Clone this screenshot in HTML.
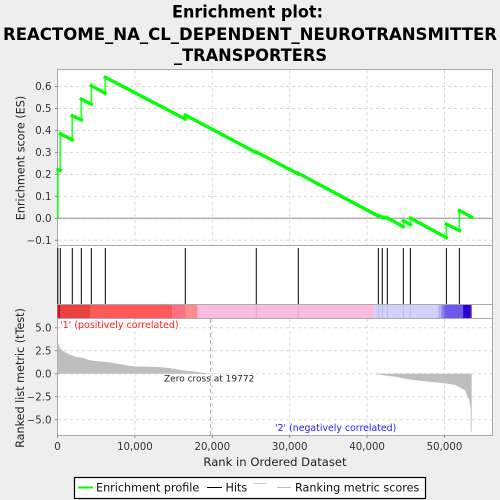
<!DOCTYPE html>
<html>
<head>
<meta charset="utf-8">
<style>
html,body{margin:0;padding:0;background:#eeeeee;width:500px;height:500px;overflow:hidden}
svg{display:block;font-family:"DejaVu Sans","Liberation Sans",sans-serif}
</style>
</head>
<body>
<svg id="chart" width="500" height="500" viewBox="0 0 500 500" xmlns="http://www.w3.org/2000/svg">
  <rect x="0" y="0" width="500" height="500" fill="#eeeeee"/>
  <g font-weight="bold" font-size="17" text-anchor="middle" fill="#000">
    <text x="247.5" y="17.5" textLength="151" lengthAdjust="spacingAndGlyphs">Enrichment plot:</text>
    <text x="250" y="40" textLength="494" lengthAdjust="spacingAndGlyphs">REACTOME_NA_CL_DEPENDENT_NEUROTRANSMITTER</text>
    <text x="250.5" y="61" textLength="153" lengthAdjust="spacingAndGlyphs">_TRANSPORTERS</text>
  </g>
  <rect x="57.5" y="69.5" width="435" height="176" fill="#fff" stroke="#aaaaaa"/>
  <rect x="57.5" y="245.5" width="435" height="73" fill="#fff" stroke="#aaaaaa"/>
  <rect x="57.5" y="318.5" width="435" height="117" fill="#fff" stroke="#aaaaaa"/>
  <g id="grid"></g>
  <g id="rankArea"></g>
  <g id="band"></g>
  <g id="hits"></g>
  <g id="es"></g>
  <g id="ticks" font-size="10.2" fill="#333"></g>
  <text transform="translate(24.5,158) rotate(-90)" text-anchor="middle" font-size="11.2" fill="#222">Enrichment score (ES)</text>
  <text transform="translate(24,378) rotate(-90)" text-anchor="middle" font-size="11.2" fill="#222">Ranked list metric (tTest)</text>
  <text x="275" y="466" text-anchor="middle" font-size="11.6" fill="#222">Rank in Ordered Dataset</text>
  <text x="60" y="328" font-size="9.5" fill="#ff2020">'1' (positively correlated)</text>
  <text x="275" y="431" font-size="9.4" fill="#2020ff">'2' (negatively correlated)</text>
  <text x="164" y="381.5" font-size="9" fill="#222">Zero cross at 19772</text>
  <g>
    <rect x="74.5" y="477.5" width="351" height="21" fill="#fff" stroke="#000" stroke-width="1.2"/>
    <line x1="78" x2="93" y1="487.5" y2="487.5" stroke="#00ff00" stroke-width="2"/>
    <text x="96" y="491.5" font-size="11.2" fill="#111">Enrichment profile</text>
    <line x1="207" x2="222" y1="487.5" y2="487.5" stroke="#000"/>
    <text x="225.5" y="491.5" font-size="11.2" fill="#111">Hits</text>
    <line x1="253" x2="267" y1="483.5" y2="483.5" stroke="#cccccc"/>
    <line x1="277" x2="291" y1="487.5" y2="487.5" stroke="#bbbbbb"/>
    <text x="295" y="491.5" font-size="11.2" fill="#111">Ranking metric scores</text>
  </g>
</svg>
<script>
// ---- data ----
var xTicks = [0, 10000, 20000, 30000, 40000, 50000];
var xTickLabels = ["0", "10,000", "20,000", "30,000", "40,000", "50,000"];
var esTicks = [-0.1, 0.0, 0.1, 0.2, 0.3, 0.4, 0.5, 0.6];
var esTickLabels = ["-0.1", "0.0", "0.1", "0.2", "0.3", "0.4", "0.5", "0.6"];
var metricTicks = [-5, -2.5, 0, 2.5, 5];
var metricTickLabels = ["-5.0", "-2.5", "0.0", "2.5", "5.0"];
var zeroCross = 19772;
var hitRanks = [40, 360, 1910, 3075, 4370, 6175, 16510, 25680, 31110, 41450, 41960, 42610, 44680, 45590, 50240, 51920];
var esBefore = [0, 0.218, 0.357, 0.448, 0.519, 0.569, 0.452, 0.299, 0.202, 0.010, 0.004, -0.001, -0.038, -0.029, -0.088, -0.056];
var esAfter = [0.222, 0.385, 0.467, 0.543, 0.604, 0.642, 0.470, 0.302, 0.205, 0.013, 0.007, 0.002, -0.011, 0.001, -0.026, 0.035];
var esEndRank = 53500;
var esEndValue = 0.005;
var metricRanks = [0, 60, 150, 320, 600, 970, 1500, 2260, 3360, 4200, 5500, 6270, 8300, 9800, 11500, 13250, 14500, 15850, 17500, 19772, 40800, 42000, 43830, 45000, 46400, 48515, 50060, 51350, 52650, 53200, 53390, 53400, 53510];
var metricValues = [3.5, 3.35, 3.15, 2.8, 2.55, 2.35, 2.1, 1.85, 1.7, 1.45, 1.33, 1.28, 1.0, 0.8, 0.75, 0.72, 0.6, 0.4, 0.25, 0, 0, -0.15, -0.36, -0.55, -0.72, -0.92, -1.05, -1.22, -1.8, -2.9, -3.9, -6.3, -6.3];
var bandEnds = [410, 4300, 14800, 16500, 18100, 40900, 49200, 49600, 50000, 52400, 53400, 53510];
var bandLevels = [9, 7, 6, 5, 4, 3, -3, -4, -5, -6, -9, -7];
var bandColors = {"9":"#d30a0a","7":"#ee4040","6":"#ff5858","5":"#ff7088","4":"#ff8c8c","3":"#ffbbdd","-3":"#d2d2ff","-4":"#b0b0f8","-5":"#8a80f5","-6":"#6a58ee","-9":"#2a00cc","-7":"#6a00c0"};

// ---- axis functions ----
function xScale(r){ return 57.5 + r * 0.00774; }
function esScale(v){ return 218.3 - v * 219.6; }
function metricScale(v){ return 373.7 - v * 9.2; }

var NS = "http://www.w3.org/2000/svg";
function mk(parent, tag, props){
  var el = document.createElementNS(NS, tag);
  for (var k in props) el.setAttribute(k, props[k]);
  document.getElementById(parent).appendChild(el);
  return el;
}

// grid
xTicks.forEach(function(t){
  if (t === 0) return;
  [[70,245],[319,435]].forEach(function(span){
    var el = mk("grid","line",{x1:xScale(t),x2:xScale(t),y1:span[0],y2:span[1],stroke:"#d8d8d8","stroke-dasharray":"3 3"});
    
    
  });
});
esTicks.forEach(function(t){
  var el = mk("grid","line",{x1:58,x2:492,y1:esScale(t),y2:esScale(t),stroke:"#d8d8d8","stroke-dasharray":"3 3"});
  
  
});
metricTicks.forEach(function(t){
  var el = mk("grid","line",{x1:58,x2:492,y1:metricScale(t),y2:metricScale(t),stroke:"#d8d8d8","stroke-dasharray":"3 3"});
  
  
});
var zeroLine = mk("grid","line",{x1:58,x2:492,y1:esScale(0),y2:esScale(0),stroke:"#909090","stroke-width":1});


var crossLine = mk("grid","line",{x1:xScale(zeroCross),x2:xScale(zeroCross),y1:319,y2:435,stroke:"#aaaaaa","stroke-dasharray":"4 3"});



// ranking metric area
var d = "M" + xScale(metricRanks[0]) + " " + metricScale(0);
metricRanks.forEach(function(r,i){ d += "L" + xScale(r) + " " + metricScale(metricValues[i]); });
d += "L" + xScale(metricRanks[metricRanks.length-1]) + " " + metricScale(0) + "Z";
var area = mk("rankArea","path",{d:d,fill:"#bebebe",stroke:"none"});



// colour bar
var prev = 0;
bandEnds.forEach(function(e,i){
  var seg = mk("band","rect",{x:xScale(prev),y:305,width:xScale(e)-xScale(prev),height:13,fill:bandColors[bandLevels[i]]});
  
  
  prev = e;
});
var barTop = mk("band","line",{x1:57.5,x2:492.5,y1:304.5,y2:304.5,stroke:"#aaaaaa"});



// hits
hitRanks.forEach(function(r){
  var h = mk("hits","line",{x1:xScale(r),x2:xScale(r),y1:248,y2:304,stroke:"#000","stroke-width":1});
  
  
  var f = mk("hits","line",{x1:xScale(r),x2:xScale(r),y1:305,y2:318,stroke:"#808080","stroke-opacity":0.3,"stroke-width":1});
  
  
});

// enrichment profile: thin rises at each hit, heavier falling runs between hits
hitRanks.forEach(function(r,i){
  var rise = mk("es","line",{x1:xScale(r),x2:xScale(r),y1:esScale(esBefore[i]),y2:esScale(esAfter[i]),stroke:"#00ff00","stroke-width":1.8,"stroke-opacity":0.8});
  
  
  var nextRank = i + 1 < hitRanks.length ? hitRanks[i+1] : esEndRank;
  var nextValue = i + 1 < hitRanks.length ? esBefore[i+1] : esEndValue;
  var fall = mk("es","line",{x1:xScale(r),x2:xScale(nextRank),y1:esScale(esAfter[i]),y2:esScale(nextValue),stroke:"#00ff00","stroke-width":3.3,"stroke-linecap":"square"});
  
  
});

// ticks
function label(text, x, y, anchor){
  var el = mk("ticks","text",{x:x,y:y,"text-anchor":anchor});
  el.textContent = text;
  return el;
}
xTicks.forEach(function(t,i){
  var l = label(xTickLabels[i], xScale(t), 450, "middle");
  
  
  var m = mk("ticks","line",{x1:xScale(t),x2:xScale(t),y1:435.5,y2:438,stroke:"#888"});
  
  
});
esTicks.forEach(function(t,i){
  var l = label(esTickLabels[i].replace("-", "\u2212"), 51.5, esScale(t)+3.7, "end");
  
  
  var m = mk("ticks","line",{x1:55,x2:57.5,y1:esScale(t),y2:esScale(t),stroke:"#888"});
  
  
});
metricTicks.forEach(function(t,i){
  var l = label(metricTickLabels[i].replace("-", "\u2212"), 51.5, metricScale(t)+3.7, "end");
  
  
  var m = mk("ticks","line",{x1:55,x2:57.5,y1:metricScale(t),y2:metricScale(t),stroke:"#888"});
  
  
});
</script>
</body>
</html>
